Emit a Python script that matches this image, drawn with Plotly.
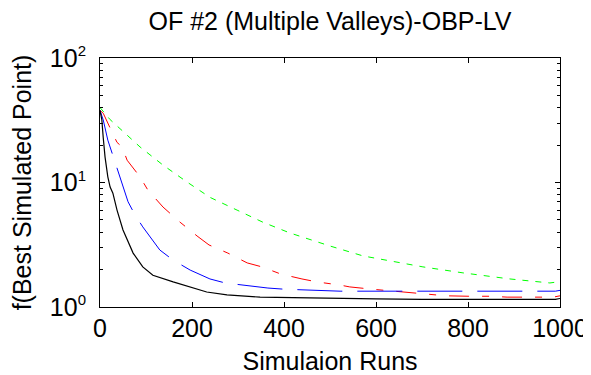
import plotly.graph_objects as go

title_text = "OF #2 (Multiple Valleys)-OBP-LV"
x_title = "Simulaion Runs"
y_title = "f(Best Simulated Point)"

x_ticks = [0, 200, 400, 600, 800, 1000]
y_tickvals = [1, 10, 100]
y_ticktext = ['10<sup><span style="font-size:15px">0</span></sup>',
              '10<sup><span style="font-size:15px">1</span></sup>',
              '10<sup><span style="font-size:15px">2</span></sup>']
y_minor_ticks = [2, 3, 4, 5, 6, 7, 8, 9, 20, 30, 40, 50, 60, 70, 80, 90]

black_x = [0, 4, 7, 11, 17, 22, 28, 37, 50, 72, 93, 115, 159, 196, 232, 276, 348, 420, 500, 600, 700, 800, 900, 990, 1000]
black_y = [38, 31.8, 23, 16, 11.1, 9.2, 8.2, 6.0, 4.16, 2.71, 2.10, 1.80, 1.59, 1.45, 1.32, 1.25, 1.20, 1.19, 1.17, 1.16, 1.15, 1.15, 1.15, 1.15, 1.17]

blue_x = [0, 7, 17, 33, 48, 61, 76, 93, 130, 159, 196, 239, 272, 365, 400, 522, 700, 850, 990, 1000]
blue_y = [38, 31.8, 21.9, 14.3, 9.9, 7.0, 5.5, 4.4, 2.87, 2.38, 1.98, 1.68, 1.56, 1.42, 1.39, 1.34, 1.34, 1.34, 1.34, 1.36]

red_x = [0, 7, 22, 37, 48, 59, 87, 104, 137, 174, 211, 237, 278, 320, 352, 393, 439, 472, 522, 543, 591, 672, 717, 752, 802, 852, 885, 935, 985, 1000]
red_y = [38, 36, 27.4, 21, 19.3, 15.1, 11.1, 8.7, 6.35, 4.8, 3.72, 3.15, 2.71, 2.26, 2.10, 1.84, 1.68, 1.59, 1.50, 1.45, 1.39, 1.30, 1.27, 1.23, 1.22, 1.22, 1.20, 1.20, 1.20, 1.23]

green_x = [0, 22, 87, 137, 189, 239, 298, 354, 413, 500, 572, 702, 789, 891, 978, 1000]
green_y = [40, 32, 19.3, 13.8, 10.1, 7.6, 6.0, 4.8, 3.93, 3.09, 2.57, 2.10, 1.88, 1.68, 1.56, 1.60]

FONT = "Liberation Sans, Arial, sans-serif"

fig = go.Figure()
fig.add_trace(go.Scatter(x=green_x, y=green_y, mode="lines",
                         line=dict(color="#00ff00", width=1, dash="6px,7px")))
fig.add_trace(go.Scatter(x=red_x, y=red_y, mode="lines",
                         line=dict(color="#ff0000", width=1, dash="20px,13px,7px,13px")))
fig.add_trace(go.Scatter(x=blue_x, y=blue_y, mode="lines",
                         line=dict(color="#0000ff", width=1, dash="45px,15px")))
fig.add_trace(go.Scatter(x=black_x, y=black_y, mode="lines",
                         line=dict(color="#000000", width=1.2)))

# page body has an 8px default margin, so the figure is 8px smaller than the window
fig.update_layout(
    width=583, height=367,
    margin=dict(l=92, r=31, t=50, b=68),
    paper_bgcolor="white", plot_bgcolor="white",
    showlegend=False,
    font=dict(family=FONT, size=25, color="black"),
    title=dict(text=title_text, x=0.5, xref="paper", xanchor="center",
               y=1 - 13 / 367, yanchor="middle", yref="container",
               font=dict(family=FONT, size=25, color="black")),
)
fig.update_xaxes(
    range=[0, 1000], tickvals=x_ticks, ticks="inside", ticklen=5,
    tickcolor="black", showline=True, linecolor="black", linewidth=1,
    mirror="ticks", showgrid=False, zeroline=False, ticklabelstandoff=-1,
    automargin=False,
    tickfont=dict(family=FONT, size=25, color="black"),
    title=dict(text=x_title, standoff=14, font=dict(family=FONT, size=25, color="black")),
)
fig.update_yaxes(
    type="log", range=[0, 2], tickvals=y_tickvals, ticktext=y_ticktext,
    ticks="inside", ticklen=5, tickcolor="black",
    showline=True, linecolor="black", linewidth=1, mirror="allticks",
    showgrid=False, zeroline=False, ticklabelstandoff=8, automargin=False,
    minor=dict(tickvals=y_minor_ticks, ticks="inside", ticklen=3,
               tickcolor="black", showgrid=False),
    tickfont=dict(family=FONT, size=25, color="black"),
    title=dict(text=y_title, standoff=12, font=dict(family=FONT, size=25, color="black")),
)

fig.write_html("out.html")
